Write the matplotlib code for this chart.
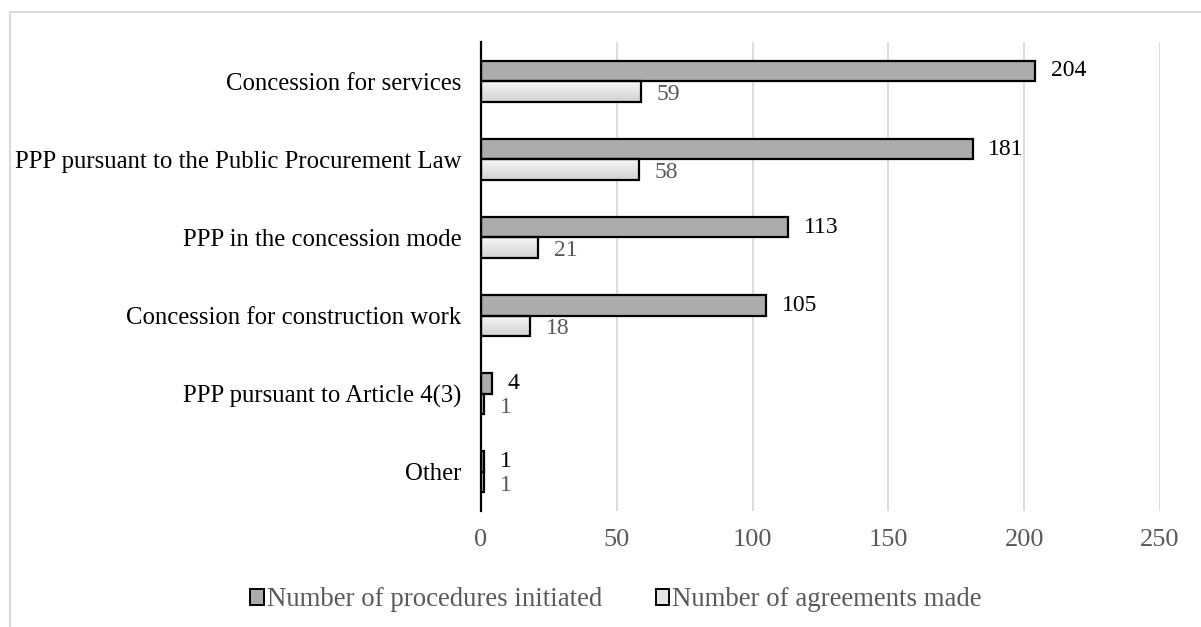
import matplotlib
matplotlib.use("Agg")
import matplotlib.pyplot as plt
import numpy as np
from matplotlib.patches import Patch
from matplotlib.lines import Line2D
from matplotlib.colors import LinearSegmentedColormap

categories = [
    "Concession for services",
    "PPP pursuant to the Public Procurement Law",
    "PPP in the concession mode",
    "Concession for construction work",
    "PPP pursuant to Article 4(3)",
    "Other",
]
procedures_initiated = [204, 181, 113, 105, 4, 1]
agreements_made = [59, 58, 21, 18, 1, 1]
series_names = ["Number of procedures initiated", "Number of agreements made"]
x_ticks = [0, 50, 100, 150, 200, 250]

plt.rcParams["font.family"] = ["Liberation Serif", "DejaVu Serif"]

W, H = 1201, 627
fig = plt.figure(figsize=(W / 100, H / 100), dpi=100)
ax = fig.add_axes([481 / W, 1 - 511 / H, (1160 - 481) / W, (511 - 42) / H])

dark = "#aeabab"
grey_text = "#595959"
n = len(categories)
ypos = np.arange(n)[::-1].astype(float)
h = 0.262

# vertical gradient for the lighter series
grad = np.linspace(0.0, 1.0, 64).reshape(-1, 1)
cmap = LinearSegmentedColormap.from_list("g", ["#d2d2d2", "#f7f7f7"])

for y, v1, v2 in zip(ypos, procedures_initiated, agreements_made):
    ax.barh(y + h / 2, v1, height=h, color=dark, edgecolor="black",
            linewidth=1.6, zorder=3)
    ax.imshow(grad, cmap=cmap, aspect="auto", origin="lower",
              extent=(0, v2, y - h, y), zorder=2.5, interpolation="bilinear")
    ax.barh(y - h / 2, v2, height=h, facecolor="none", edgecolor="black",
            linewidth=1.6, zorder=3)
    ax.text(v1 + 5.8, y + h / 2, str(v1), va="center", ha="left",
            fontsize=17, color="black")
    ax.text(v2 + 5.8, y - h / 2 - 0.04, str(v2), va="center", ha="left",
            fontsize=17, color=grey_text)

ax.set_xlim(0, 250)
ax.set_ylim(-0.5, n - 0.5)
ax.set_xticks(x_ticks)
ax.set_xticklabels([str(t) for t in x_ticks], fontsize=19, color=grey_text)
ax.set_yticks(ypos)
ax.set_yticklabels(categories, fontsize=17.8, color="black")
ax.tick_params(axis="both", length=0)
ax.tick_params(axis="x", pad=13)
ax.tick_params(axis="y", pad=14)
ax.grid(axis="x", color="#d9d9d9", linewidth=1.3, zorder=0)
for s in ["top", "right", "bottom"]:
    ax.spines[s].set_visible(False)
ax.spines["left"].set_color("black")
ax.spines["left"].set_linewidth(1.6)
ax.spines["left"].set_zorder(4)

handles = [
    Patch(facecolor=dark, edgecolor="black", linewidth=1.4),
    Patch(facecolor="#e4e4e4", edgecolor="black", linewidth=1.4),
]
leg = fig.legend(handles, series_names, loc="center", ncol=2,
                 bbox_to_anchor=(616 / W, 1 - 600 / H), frameon=False,
                 fontsize=19.3, handlelength=0.5, handleheight=0.5,
                 handletextpad=0.12, columnspacing=2.0)
for t in leg.get_texts():
    t.set_color(grey_text)

# outer frame (only the top and left edges fall inside the canvas)
fig.add_artist(Line2D([10 / W, 1.0], [1 - 12 / H, 1 - 12 / H],
                      color="#d9d9d9", linewidth=1.5, transform=fig.transFigure))
fig.add_artist(Line2D([10 / W, 10 / W], [1 - 12 / H, 0.0],
                      color="#d9d9d9", linewidth=1.5, transform=fig.transFigure))

fig.savefig("out.png", dpi=100)
